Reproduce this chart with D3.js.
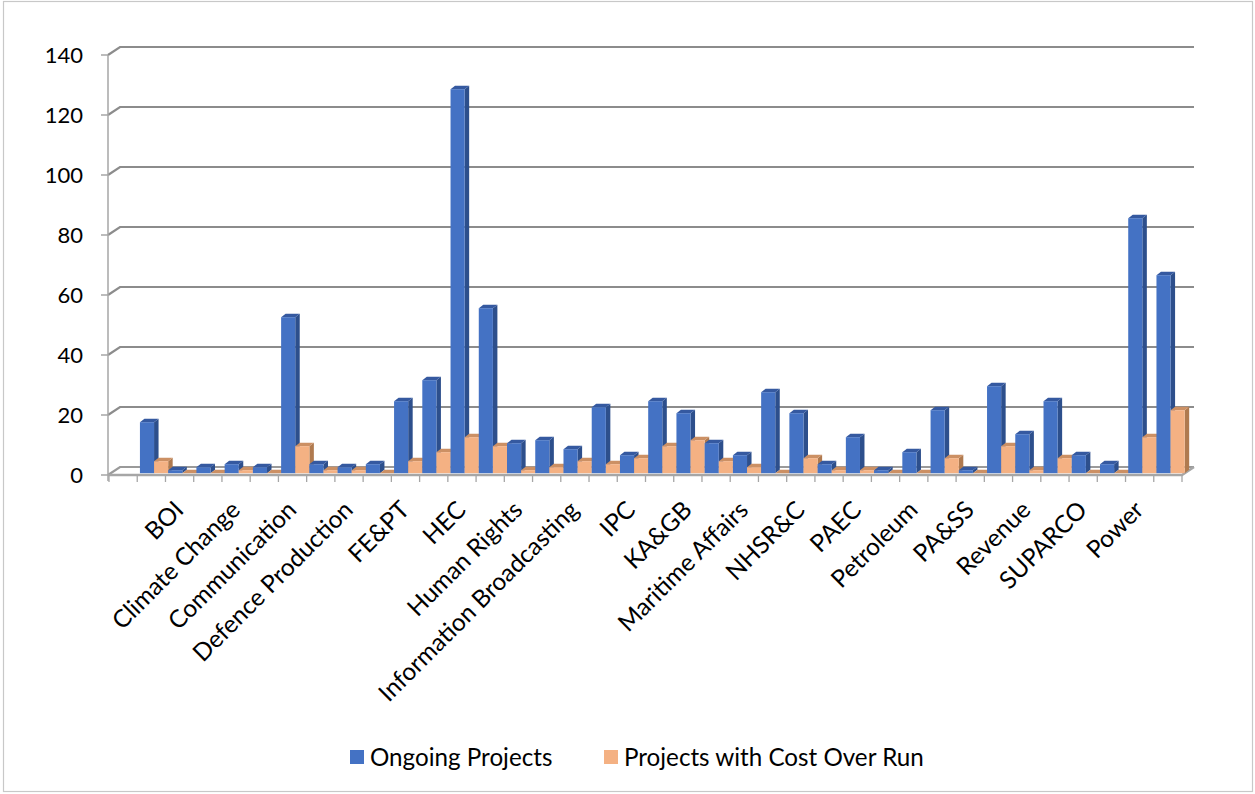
<!DOCTYPE html>
<html>
<head>
<meta charset="utf-8">
<script src="https://cdn.jsdelivr.net/npm/d3@7"></script>
<style>
  body { margin: 0; background: #fff; }
  svg { display: block; font-family: Lato, "Open Sans", sans-serif; }
</style>
</head>
<body>
<div id="chart"></div>
<script>
// categories: Excel shows every 2nd label, so the odd ones are hidden (names not readable)
var categories = ["", "", "BOI", "", "Climate Change", "", "Communication", "", "Defence Production", "",
    "FE&PT", "", "HEC", "", "Human Rights", "", "Information Broadcasting", "", "IPC", "",
    "KA&GB", "", "Maritime Affairs", "", "NHSR&C", "", "PAEC", "", "Petroleum", "",
    "PA&SS", "", "Revenue", "", "SUPARCO", "", "Power", ""];

var ongoingProjects = [null, 17, 1, 2, 3, 2, 52, 3, 2, 3, 24, 31, 128, 55, 10, 11, 8, 22, 6, 24,
    20, 10, 6, 27, 20, 3, 12, 1, 7, 21, 1, 29, 13, 24, 6, 3, 85, 66];

var costOverRun = [null, 4, 0, 0, 1, 0, 9, 1, 1, 0, 4, 7, 12, 9, 1, 2, 4, 3, 5, 9,
    11, 4, 2, 0, 5, 1, 1, 0, 0, 5, 0, 9, 1, 5, 0, 0, 12, 21];

var seriesNames = ["Ongoing Projects", "Projects with Cost Over Run"];
var yTicks = [0, 20, 40, 60, 80, 100, 120, 140];

var width = 1255, height = 794;

// front / back offsets of the 3d box
var wallDx = 12, wallDy = -8;     // back wall vs front axis
var barShiftX = 2.7, barShiftY = -1.8; // bars sit a bit behind the front edge
var depthDx = 4.5, depthDy = -3.5;  // column depth

var colors = [
    { front: "#4472C4", side: "#2D4F8C", top: "#3559A0" },
    { front: "#F4B183", side: "#B07A4F", top: "#CC9064" }
];

var svg = d3.select("#chart").append("svg")
    .attr("width", width)
    .attr("height", height);

// chart area border
svg.append("rect")
    .attr("x", 3.5).attr("y", 1.5)
    .attr("width", 1249).attr("height", 790)
    .attr("fill", "none")
    .attr("stroke", "#C8C8C8")
    .attr("stroke-width", 1.2);

var x = d3.scaleBand()
    .domain(d3.range(categories.length))
    .range([109, 1182])
    .padding(0);

var y = d3.scaleLinear()
    .domain([0, 140])
    .range([475, 55]);

var bw = x.bandwidth() / 2;

// gridlines on back wall, with the short diagonal to the front axis
var grid = svg.append("g").attr("class", "grid");
yTicks.forEach(function (v) {
    grid.append("path")
        .attr("d", "M108," + y(v) + "L" + (108 + wallDx) + "," + (y(v) + wallDy) +
            "L1194," + (y(v) + wallDy))
        .attr("fill", "none")
        .attr("stroke", v === 0 ? "#9A9A9A" : "#8C8C8C")
        .attr("stroke-width", 2.2);
});

// floor: front edge and right edge
var floor = svg.append("g").attr("class", "floor");
floor.append("path")
    .attr("d", "M108," + y(0) + "L1182," + y(0) + "L" + (1182 + wallDx) + "," + (y(0) + wallDy))
    .attr("fill", "none")
    .attr("stroke", "#A6A6A6")
    .attr("stroke-width", 2.5);

// front value axis
var yAxisG = svg.append("g").attr("class", "y-axis");
yAxisG.append("line")
    .attr("x1", 108).attr("x2", 108)
    .attr("y1", y(140)).attr("y2", y(0) + 6)
    .attr("stroke", "#A6A6A6").attr("stroke-width", 1.5);
yAxisG.selectAll(".tick")
    .data(yTicks)
    .enter().append("line")
    .attr("x1", 101).attr("x2", 108)
    .attr("y1", function (d) { return y(d); })
    .attr("y2", function (d) { return y(d); })
    .attr("stroke", "#A6A6A6").attr("stroke-width", 1.5);
yAxisG.selectAll("text")
    .data(yTicks)
    .enter().append("text")
    .attr("x", 83)
    .attr("y", function (d) { return y(d); })
    .attr("dy", "0.35em")
    .attr("text-anchor", "end")
    .attr("font-size", 22)
    .attr("fill", "#000")
    .text(function (d) { return d; });

// category tick marks
var xTickG = svg.append("g").attr("class", "x-ticks");
xTickG.selectAll("line")
    .data(d3.range(categories.length + 1))
    .enter().append("line")
    .attr("x1", function (i) { return 109 + i * x.step(); })
    .attr("x2", function (i) { return 109 + i * x.step(); })
    .attr("y1", y(0))
    .attr("y2", y(0) + 7)
    .attr("stroke", "#A6A6A6").attr("stroke-width", 1.3);

// columns, drawn left to right so later fronts cover earlier side faces
var bars = svg.append("g").attr("class", "bars");
var barData = [];
categories.forEach(function (c, i) {
    [ongoingProjects[i], costOverRun[i]].forEach(function (v, s) {
        if (v === null) return;
        barData.push({ i: i, s: s, v: v });
    });
});

function pts(arr) {
    return arr.map(function (p) { return p[0] + "," + p[1]; }).join(" ");
}

var bar = bars.selectAll("g")
    .data(barData)
    .enter().append("g");

bar.each(function (d) {
    var g = d3.select(this);
    var x0 = x(d.i) + barShiftX + d.s * bw;
    var x1 = x0 + bw;
    var base = y(0) + barShiftY;
    var top = y(d.v) + barShiftY;
    var col = colors[d.s];

    g.append("polygon")
        .attr("points", pts([[x1, top], [x1 + depthDx, top + depthDy], [x1 + depthDx, base + depthDy], [x1, base]]))
        .attr("fill", col.side);
    g.append("polygon")
        .attr("points", pts([[x0, top], [x0 + depthDx, top + depthDy], [x1 + depthDx, top + depthDy], [x1, top]]))
        .attr("fill", col.top);
    if (d.v > 0) {
        g.append("rect")
            .attr("x", x0).attr("y", top)
            .attr("width", bw).attr("height", base - top)
            .attr("fill", col.front);
    }
});

// category labels, every 2nd one, rotated -45
svg.append("g").attr("class", "x-labels")
    .selectAll("text")
    .data(categories.map(function (c, i) { return { c: c, i: i }; })
        .filter(function (d) { return d.i % 2 === 0 && d.c !== ""; }))
    .enter().append("text")
    .attr("transform", function (d) {
        return "translate(" + (x(d.i) + x.bandwidth() / 2 - 7) + ",499) rotate(-45)";
    })
    .attr("dy", "0.72em")
    .attr("text-anchor", "end")
    .attr("font-size", 24.4)
    .attr("fill", "#000")
    .text(function (d) { return d.c; });

// legend
var legend = svg.append("g").attr("class", "legend");
var legendX = [350, 604];
seriesNames.forEach(function (name, s) {
    legend.append("rect")
        .attr("x", legendX[s]).attr("y", 750)
        .attr("width", 14).attr("height", 14)
        .attr("fill", colors[s].front);
    legend.append("text")
        .attr("x", legendX[s] + 20).attr("y", 766)
        .attr("font-size", 24.2)
        .attr("fill", "#000")
        .text(name);
});
</script>
</body>
</html>
